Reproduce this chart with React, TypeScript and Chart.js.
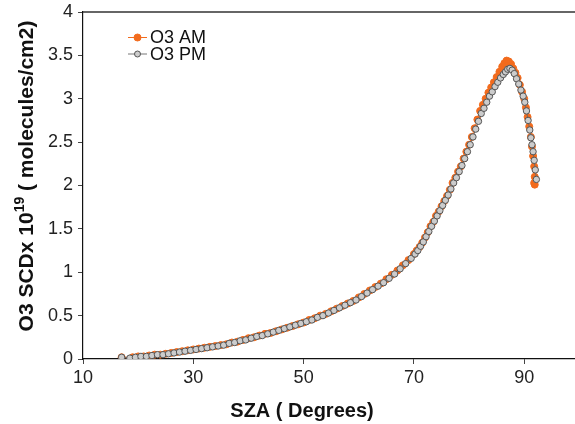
import React, { useEffect, useRef } from "react";
import { Chart, registerables } from "chart.js";

Chart.register(...registerables);

const X_TICKS = [10, 30, 50, 70, 90];
const Y_TICKS = [0, 0.5, 1, 1.5, 2, 2.5, 3, 3.5, 4];

const AM_SZA = [
  17.0, 19.0, 20.0, 21.0, 22.0, 23.0, 24.0, 25.0, 26.0, 27.0, 28.0, 29.0, 30.0, 31.0, 32.0, 33.0,
  34.0, 35.0, 36.0, 37.0, 38.0, 39.0, 40.0, 41.0, 42.0, 43.0, 44.0, 45.0, 46.0, 47.0, 48.0, 49.0,
  50.0, 51.0, 52.0, 53.0, 54.0, 55.0, 56.0, 57.0, 58.0, 59.0, 60.0, 61.0, 62.0, 63.0, 64.0, 65.0,
  66.0, 67.0, 68.0, 69.0, 70.0, 70.5, 71.0, 71.5, 72.0, 72.5, 73.0, 73.5, 74.0, 74.5, 75.0, 75.5,
  76.0, 76.5, 77.0, 77.5, 78.0, 78.5, 79.0, 79.5, 80.0, 80.5, 81.0, 81.5, 82.0, 82.5, 83.0, 83.5,
  84.0, 84.5, 85.0, 85.5, 86.0, 86.4, 86.8, 87.2, 87.6, 88.0, 88.4, 88.8, 89.2, 89.6, 90.0, 90.3,
  90.6, 90.9, 91.2, 91.4, 91.6, 91.8, 91.9, 91.8, 91.9,
];
const AM_SCD = [
  0.02, 0.02, 0.03, 0.03, 0.04, 0.05, 0.05, 0.06, 0.07, 0.08, 0.09, 0.1, 0.11, 0.12, 0.13, 0.14,
  0.15, 0.16, 0.17, 0.19, 0.2, 0.22, 0.24, 0.25, 0.27, 0.29, 0.3, 0.32, 0.34, 0.36, 0.38, 0.4,
  0.42, 0.45, 0.47, 0.5, 0.52, 0.55, 0.58, 0.61, 0.64, 0.67, 0.71, 0.75, 0.79, 0.83, 0.87, 0.92,
  0.97, 1.02, 1.08, 1.14, 1.21, 1.25, 1.29, 1.34, 1.4, 1.46, 1.53, 1.58, 1.65, 1.7, 1.76, 1.82,
  1.88, 1.95, 2.03, 2.09, 2.16, 2.22, 2.31, 2.39, 2.47, 2.56, 2.66, 2.76, 2.86, 2.93, 3.0, 3.07,
  3.13, 3.19, 3.25, 3.31, 3.37, 3.41, 3.44, 3.43, 3.4, 3.35, 3.3, 3.24, 3.16, 3.08, 3.0, 2.9,
  2.79, 2.68, 2.56, 2.45, 2.34, 2.22, 2.1, 2.03, 2.01,
];

const PM_SZA = [
  17.0, 18.5, 19.5, 20.5, 21.5, 22.5, 23.5, 24.5, 25.5, 26.5, 27.5, 28.5, 29.5, 30.5, 31.5, 32.5,
  33.5, 34.5, 35.5, 36.5, 37.5, 38.5, 39.5, 40.5, 41.5, 42.5, 43.5, 44.5, 45.5, 46.5, 47.5, 48.5,
  49.5, 50.5, 51.5, 52.5, 53.5, 54.5, 55.5, 56.5, 57.5, 58.5, 59.5, 60.5, 61.5, 62.5, 63.5, 64.5,
  65.5, 66.5, 67.5, 68.5, 69.5, 70.2, 70.7, 71.2, 71.7, 72.2, 72.7, 73.2, 73.7, 74.2, 74.7, 75.2,
  75.7, 76.2, 76.7, 77.2, 77.7, 78.2, 78.7, 79.2, 79.7, 80.2, 80.7, 81.2, 81.7, 82.2, 82.7, 83.2,
  83.7, 84.2, 84.7, 85.2, 85.7, 86.2, 86.6, 87.0, 87.4, 87.8, 88.2, 88.6, 89.0, 89.4, 89.8, 90.1,
  90.4, 90.7, 91.0, 91.2, 91.4, 91.6, 91.8, 92.0, 92.2,
];
const PM_SCD = [
  0.02, 0.01, 0.02, 0.03, 0.03, 0.04, 0.05, 0.05, 0.06, 0.07, 0.08, 0.09, 0.1, 0.11, 0.12, 0.13,
  0.14, 0.15, 0.16, 0.18, 0.19, 0.21, 0.22, 0.24, 0.26, 0.27, 0.29, 0.31, 0.33, 0.35, 0.37, 0.39,
  0.41, 0.43, 0.45, 0.48, 0.5, 0.53, 0.56, 0.59, 0.62, 0.65, 0.68, 0.72, 0.76, 0.8, 0.84, 0.88,
  0.93, 0.98, 1.04, 1.1, 1.16, 1.21, 1.25, 1.3, 1.35, 1.41, 1.47, 1.53, 1.59, 1.65, 1.71, 1.77,
  1.83, 1.89, 1.96, 2.03, 2.09, 2.16, 2.23, 2.31, 2.39, 2.47, 2.56, 2.65, 2.74, 2.83, 2.89, 2.96,
  3.03, 3.08, 3.14, 3.19, 3.24, 3.28, 3.31, 3.34, 3.35, 3.33, 3.29, 3.23, 3.17, 3.1, 3.03, 2.96,
  2.86, 2.75, 2.64, 2.55, 2.47, 2.39, 2.29, 2.18, 2.07,
];

const SERIES_NAMES = ["O3 AM", "O3 PM"];
const X_TITLE = "SZA ( Degrees)";

const FONT = "'Liberation Sans', Arial, Helvetica, sans-serif";
const ORANGE = "#f26b1d";
const GRAY_FILL = "#cccccc";
const GRAY_EDGE = "#555555";

function toPoints(xs: number[], ys: number[]) {
  return xs.map((x, i) => ({ x, y: ys[i] }));
}

const decorPlugin = {
  id: "decor",
  afterDraw(chart: any) {
    const ctx = chart.ctx as CanvasRenderingContext2D;
    const area = chart.chartArea;
    ctx.save();
    // top frame line
    ctx.strokeStyle = "#333333";
    ctx.lineWidth = 1.5;
    ctx.beginPath();
    ctx.moveTo(area.left, area.top);
    ctx.lineTo(area.right, area.top);
    ctx.stroke();

    // legend
    const lx = 128;
    const rows = [
      { y: 37.5, fill: ORANGE, edge: ORANGE, line: ORANGE, r: 3.5 },
      { y: 54, fill: GRAY_FILL, edge: GRAY_EDGE, line: "#777777", r: 3 },
    ];
    rows.forEach((row, i) => {
      ctx.strokeStyle = row.line;
      ctx.lineWidth = 1;
      ctx.beginPath();
      ctx.moveTo(lx, row.y);
      ctx.lineTo(lx + 19, row.y);
      ctx.stroke();
      ctx.beginPath();
      ctx.arc(lx + 9.5, row.y, row.r, 0, Math.PI * 2);
      ctx.fillStyle = row.fill;
      ctx.fill();
      ctx.strokeStyle = row.edge;
      ctx.stroke();
      ctx.fillStyle = "#111111";
      ctx.font = `18px ${FONT}`;
      ctx.textAlign = "left";
      ctx.textBaseline = "middle";
      ctx.fillText(SERIES_NAMES[i], lx + 22, row.y + 1);
    });

    // x title
    ctx.fillStyle = "#111111";
    ctx.font = `bold 20px ${FONT}`;
    ctx.textAlign = "center";
    ctx.textBaseline = "alphabetic";
    ctx.fillText(X_TITLE, 302, 417);

    // y title with superscript
    const partA = "O3 SCDx 10";
    const partSup = "19";
    const partB = " ( molecules/cm2)";
    ctx.font = `bold 21px ${FONT}`;
    const wA = ctx.measureText(partA).width;
    const wB = ctx.measureText(partB).width;
    ctx.font = `bold 14px ${FONT}`;
    const wS = ctx.measureText(partSup).width;
    const total = wA + wS + wB;
    const cy = 176;
    ctx.translate(33, cy);
    ctx.rotate(-Math.PI / 2);
    ctx.textAlign = "left";
    let pos = -total / 2;
    ctx.font = `bold 21px ${FONT}`;
    ctx.fillText(partA, pos, 0);
    pos += wA;
    ctx.font = `bold 14px ${FONT}`;
    ctx.fillText(partSup, pos, -9);
    pos += wS;
    ctx.font = `bold 21px ${FONT}`;
    ctx.fillText(partB, pos, 0);
    ctx.restore();
  },
};

export default function App() {
  const ref = useRef<HTMLCanvasElement | null>(null);

  useEffect(() => {
    if (!ref.current) return;
    const chart = new Chart(ref.current, {
      type: "scatter",
      data: {
        datasets: [
          {
            label: SERIES_NAMES[0],
            data: toPoints(AM_SZA, AM_SCD),
            showLine: true,
            borderColor: ORANGE,
            borderWidth: 1,
            backgroundColor: ORANGE,
            pointBackgroundColor: ORANGE,
            pointBorderColor: ORANGE,
            pointBorderWidth: 1,
            pointRadius: 3.5,
            order: 2,
          },
          {
            label: SERIES_NAMES[1],
            data: toPoints(PM_SZA, PM_SCD),
            showLine: true,
            borderColor: "#7a6a60",
            borderWidth: 1,
            backgroundColor: GRAY_FILL,
            pointBackgroundColor: GRAY_FILL,
            pointBorderColor: GRAY_EDGE,
            pointBorderWidth: 1,
            pointRadius: 3.2,
            order: 1,
          },
        ],
      },
      options: {
        animation: false,
        responsive: false,
        devicePixelRatio: 1,
        layout: { autoPadding: false, padding: { top: 12, right: 0, bottom: 0, left: 0 } },
        plugins: {
          legend: { display: false },
          tooltip: { enabled: false },
        },
        scales: {
          x: {
            type: "linear",
            min: 10,
            max: 99.2,
            afterBuildTicks: (scale: any) => {
              scale.ticks = X_TICKS.map((v) => ({ value: v }));
            },
            afterFit: (scale: any) => {
              scale.height = 65;
              scale.paddingLeft = 0;
              scale.paddingRight = 0;
              scale.paddingTop = 0;
              scale.paddingBottom = 0;
            },
            grid: {
              drawOnChartArea: false,
              drawTicks: true,
              tickLength: 5,
              color: "#444444",
            },
            border: { display: true, color: "#111111", width: 1.2 },
            ticks: {
              color: "#222222",
              font: { family: FONT, size: 18 },
              padding: 3,
              maxRotation: 0,
              autoSkip: false,
              callback: (v: any) => String(v),
            },
          },
          y: {
            type: "linear",
            min: 0,
            max: 4,
            afterBuildTicks: (scale: any) => {
              scale.ticks = Y_TICKS.map((v) => ({ value: v }));
            },
            afterFit: (scale: any) => {
              scale.width = 83;
              scale.paddingLeft = 0;
              scale.paddingRight = 0;
              scale.paddingTop = 0;
              scale.paddingBottom = 0;
            },
            grid: {
              drawOnChartArea: false,
              drawTicks: true,
              tickLength: 5,
              color: "#444444",
            },
            border: { display: true, color: "#111111", width: 1.2 },
            ticks: {
              color: "#222222",
              font: { family: FONT, size: 18 },
              padding: 5,
              autoSkip: false,
              callback: (v: any) => String(v),
            },
          },
        },
      },
      plugins: [decorPlugin],
    });
    return () => chart.destroy();
  }, []);

  return (
    <div style={{ position: "absolute", left: 0, top: 0, width: 575, height: 424, background: "#fff" }}>
      <canvas ref={ref} width={575} height={424} style={{ width: 575, height: 424, display: "block" }} />
    </div>
  );
}
